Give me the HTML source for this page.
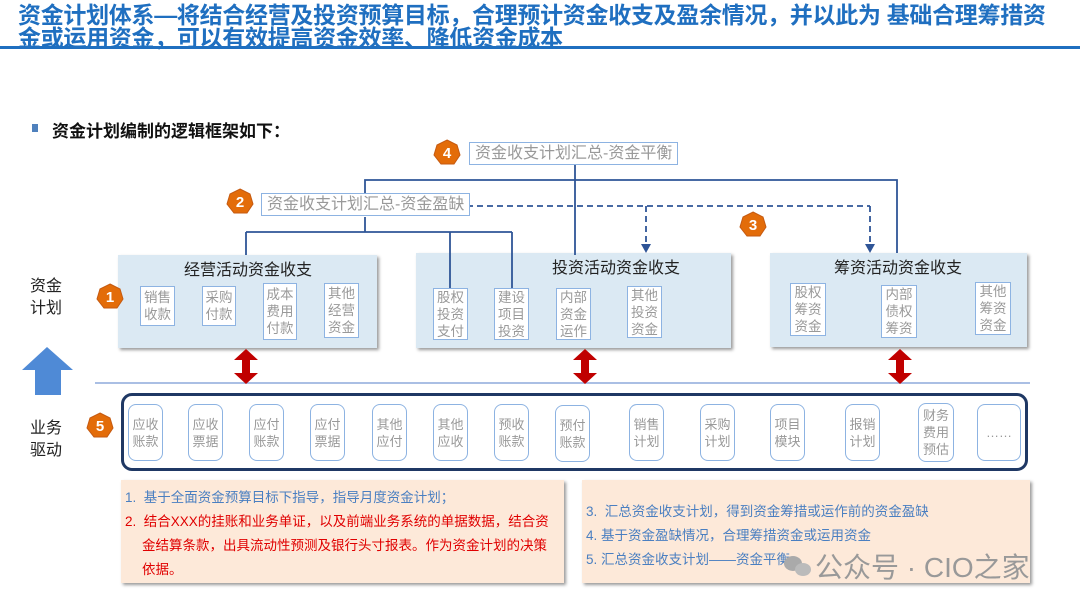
<!DOCTYPE html>
<html><head><meta charset="utf-8"><style>
*{margin:0;padding:0;box-sizing:border-box}
body{width:1080px;height:608px;background:#fff;position:relative;overflow:hidden;font-family:"Liberation Sans","Noto Sans CJK SC",sans-serif}
.a{position:absolute}
.t{color:#1f6fc0;font-weight:bold;font-size:23px;line-height:23px;letter-spacing:-0.3px;white-space:nowrap}
.grp{position:absolute;background:#dbe9f3;box-shadow:2px 2px 3px #999}
.gt{position:absolute;font-size:16px;color:#222;white-space:nowrap}
.sb{position:absolute;background:#fff;border:1.5px solid #8db3e2;color:#999;font-size:13.5px;line-height:17px;text-align:center;display:flex;align-items:center;justify-content:center}
.rb{position:absolute;top:404px;height:57px;width:35px;border:1.5px solid #8db3e2;border-radius:8px;color:#999;font-size:13px;line-height:17px;text-align:center;display:flex;align-items:center;justify-content:center;background:#fff}
.lbl{position:absolute;font-size:16px;line-height:22px;color:#222}
.sum{position:absolute;background:#fff;border:1.5px solid #8db3e2;color:#999;font-size:16px;white-space:nowrap;padding:0 5px;line-height:21px}
.txt{position:absolute;font-size:13.5px;white-space:nowrap}
</style></head><body>
<div class="a t" style="left:18px;top:4px">资金计划体系—将结合经营及投资预算目标，合理预计资金收支及盈余情况，并以此为 基础合理筹措资</div>
<div class="a t" style="left:18px;top:27px">金或运用资金，可以有效提高资金效率、降低资金成本</div>
<div class="a" style="left:0;top:46px;width:1080px;height:3px;background:#1f6fc0"></div>
<div class="a" style="left:32px;top:124px;width:6px;height:8px;background:#4f81bd"></div>
<div class="a" style="left:52px;top:117px;font-size:17px;font-weight:bold;color:#111">资金计划编制的逻辑框架如下：</div>

<div class="grp" style="left:118px;top:255px;width:259px;height:93px"></div>
<div class="grp" style="left:416px;top:253px;width:315px;height:95px"></div>
<div class="grp" style="left:770px;top:253px;width:257px;height:94px"></div>

<svg class="a" style="left:0;top:0" width="1080" height="608">
<g stroke="#2f5597" stroke-width="1.8" fill="none">
<path d="M575 164 V255 M365 193 V180 H897 V253"/>
<path d="M365 217 V232 M246 232 H512 M246 232 V255 M450 232 V288 M512 232 V288"/>
</g>
<g stroke="#2f5597" stroke-width="1.8" fill="none" stroke-dasharray="6,4">
<path d="M467 206 H870 M646 206 V246 M870 206 V246"/>
</g>
<path d="M641 244 L651 244 L646 253z M865 244 L875 244 L870 253z" fill="#2f5597"/>
<line x1="95" y1="383" x2="1030" y2="383" stroke="#8eaadb" stroke-width="1.5"/>
<g fill="#c00000">
<path d="M246 349 L258 360 L250 360 L250 373 L258 373 L246 384 L234 373 L242 373 L242 360 L234 360z"/>
<path d="M585 349 L597 360 L589 360 L589 373 L597 373 L585 384 L573 373 L581 373 L581 360 L573 360z"/>
<path d="M900 349 L912 360 L904 360 L904 373 L912 373 L900 384 L888 373 L896 373 L896 360 L888 360z"/>
</g>
<path d="M47 347 L73 370 L61 370 L61 395 L35 395 L35 370 L22 370z" fill="#4f8ad6"/>
<g fill="#e36c09" stroke="#c55a11" stroke-width="1">
<polygon points="13,0 23,5 26,15 20,24 7,24 0,15 3,5" transform="translate(434,140)"/>
<polygon points="13,0 23,5 26,15 20,24 7,24 0,15 3,5" transform="translate(227,189)"/>
<polygon points="13,0 23,5 26,15 20,24 7,24 0,15 3,5" transform="translate(740,212)"/>
<polygon points="13,0 23,5 26,15 20,24 7,24 0,15 3,5" transform="translate(97,284)"/>
<polygon points="13,0 23,5 26,15 20,24 7,24 0,15 3,5" transform="translate(87,413)"/>
</g>
<g fill="#fff" font-size="15" font-weight="bold" text-anchor="middle" font-family="Liberation Sans">
<text x="447" y="158">4</text><text x="240" y="207">2</text><text x="753" y="230">3</text><text x="110" y="302">1</text><text x="100" y="431">5</text>
</g>
</svg>

<div class="sum" style="left:469px;top:142px">资金收支计划汇总-资金平衡</div>
<div class="sum" style="left:261px;top:193px">资金收支计划汇总-资金盈缺</div>

<div class="gt" style="left:184px;top:256px">经营活动资金收支</div>
<div class="gt" style="left:552px;top:254px">投资活动资金收支</div>
<div class="gt" style="left:834px;top:254px">筹资活动资金收支</div>

<div class="sb" style="left:140px;top:286px;width:35px;height:40px">销售<br>收款</div>
<div class="sb" style="left:202px;top:286px;width:34px;height:40px">采购<br>付款</div>
<div class="sb" style="left:263px;top:283px;width:34px;height:57px">成本<br>费用<br>付款</div>
<div class="sb" style="left:324px;top:283px;width:35px;height:55px">其他<br>经营<br>资金</div>
<div class="sb" style="left:433px;top:288px;width:35px;height:52px">股权<br>投资<br>支付</div>
<div class="sb" style="left:494px;top:288px;width:35px;height:52px">建设<br>项目<br>投资</div>
<div class="sb" style="left:556px;top:288px;width:35px;height:52px">内部<br>资金<br>运作</div>
<div class="sb" style="left:627px;top:286px;width:35px;height:52px">其他<br>投资<br>资金</div>
<div class="sb" style="left:790px;top:283px;width:36px;height:53px">股权<br>筹资<br>资金</div>
<div class="sb" style="left:881px;top:285px;width:36px;height:53px">内部<br>债权<br>筹资</div>
<div class="sb" style="left:975px;top:282px;width:36px;height:53px">其他<br>筹资<br>资金</div>

<div class="lbl" style="left:30px;top:276px">资金<br>计划</div>
<div class="lbl" style="left:30px;top:418px">业务<br>驱动</div>

<div class="a" style="left:121px;top:393px;width:907px;height:78px;border:3px solid #1f3864;border-radius:11px"></div>
<div class="rb" style="left:128px">应收<br>账款</div>
<div class="rb" style="left:188px">应收<br>票据</div>
<div class="rb" style="left:249px">应付<br>账款</div>
<div class="rb" style="left:310px">应付<br>票据</div>
<div class="rb" style="left:372px">其他<br>应付</div>
<div class="rb" style="left:433px">其他<br>应收</div>
<div class="rb" style="left:494px">预收<br>账款</div>
<div class="rb" style="left:555px;top:405px">预付<br>账款</div>
<div class="rb" style="left:629px">销售<br>计划</div>
<div class="rb" style="left:700px">采购<br>计划</div>
<div class="rb" style="left:770px">项目<br>模块</div>
<div class="rb" style="left:845px">报销<br>计划</div>
<div class="rb" style="left:918px;top:403px;height:59px;width:36px">财务<br>费用<br>预估</div>
<div class="rb" style="left:977px;width:44px">……</div>

<div class="a" style="left:121px;top:480px;width:443px;height:103px;background:#fde9d9;box-shadow:2px 2px 3px #999"></div>
<div class="a" style="left:582px;top:480px;width:448px;height:103px;background:#fde9d9;box-shadow:2px 2px 3px #999"></div>
<div class="txt" style="left:125px;top:486px;color:#4a7fc1">1.&nbsp; 基于全面资金预算目标下指导，指导月度资金计划；</div>
<div class="txt" style="left:125px;top:510px;color:#e00000">2.&nbsp; 结合XXX的挂账和业务单证，以及前端业务系统的单据数据，结合资</div>
<div class="txt" style="left:142px;top:534px;color:#e00000">金结算条款，出具流动性预测及银行头寸报表。作为资金计划的决策</div>
<div class="txt" style="left:142px;top:558px;color:#e00000">依据。</div>
<div class="txt" style="left:586px;top:500px;color:#4a7fc1">3.&nbsp; 汇总资金收支计划，得到资金筹措或运作前的资金盈缺</div>
<div class="txt" style="left:586px;top:524px;color:#4a7fc1">4. 基于资金盈缺情况，合理筹措资金或运用资金</div>
<div class="txt" style="left:586px;top:548px;color:#4a7fc1">5. 汇总资金收支计划——资金平衡</div>
<div class="a" style="left:784px;top:556px;width:18px;height:15px;border-radius:50%;background:#aaa"></div>
<div class="a" style="left:795px;top:563px;width:16px;height:13px;border-radius:50%;background:#bbb"></div>
<div class="a" style="left:815px;top:546px;font-size:28px;color:#999;white-space:nowrap">公众号 · CIO之家</div>
</body></html>
